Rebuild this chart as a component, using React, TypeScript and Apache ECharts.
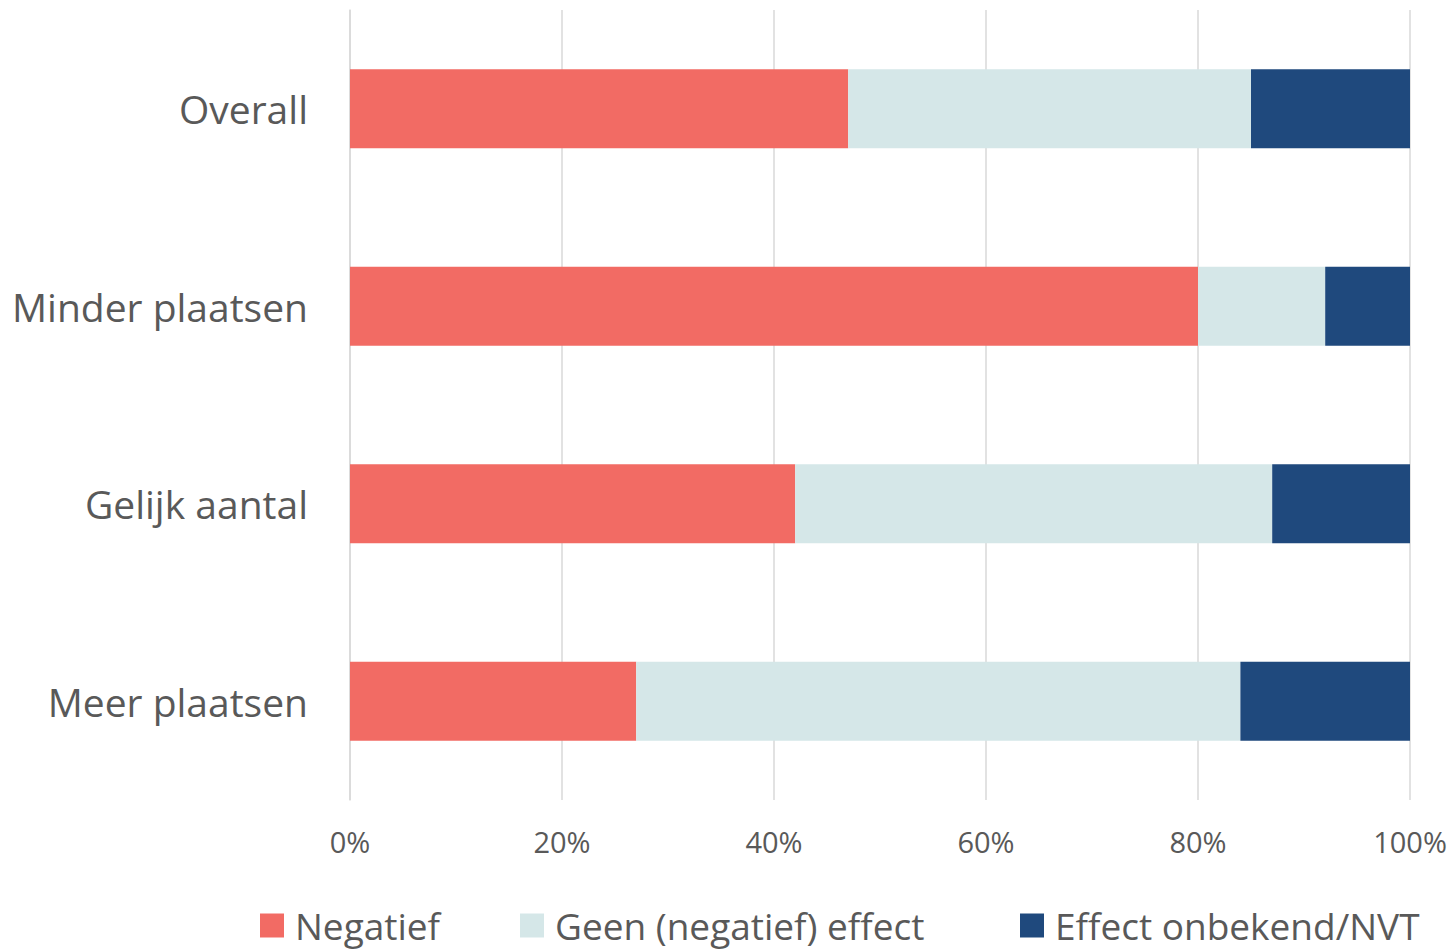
import React, { useEffect, useRef } from "react";
import * as echarts from "echarts";

const categories = ["Overall", "Minder plaatsen", "Gelijk aantal", "Meer plaatsen"];
const negatief = [47, 80, 42, 27];
const geenEffect = [38, 12, 45, 57];
const onbekend = [15, 8, 13, 16];
const seriesNames = ["Negatief", "Geen (negatief) effect", "Effect onbekend/NVT"];
const colors = ["#F26B64", "#D5E7E8", "#1F497D"];
const legendLefts = [260, 520, 1020];

export default function App() {
  const ref = useRef<HTMLDivElement>(null);
  useEffect(() => {
    document.body.style.margin = "0";
    const chart = echarts.init(ref.current!, null, { renderer: "svg" });
    const font = "'Open Sans', Lato, sans-serif";
    const datasets = [negatief, geenEffect, onbekend];
    chart.setOption({
      animation: false,
      backgroundColor: "#ffffff",
      textStyle: { fontFamily: font },
      grid: { left: 350, right: 43, top: 10, bottom: 150, containLabel: false },
      legend: seriesNames.map((name, i) => ({
        bottom: 6,
        left: legendLefts[i],
        padding: 0,
        itemWidth: 24,
        itemHeight: 24,
        icon: "rect",
        textStyle: { fontSize: 37, color: "#595959", fontFamily: font, padding: [0, 0, 0, 6] },
        data: [name],
      })),
      xAxis: {
        type: "value",
        min: 0,
        max: 100,
        interval: 20,
        axisLabel: {
          formatter: "{value}%",
          fontSize: 29,
          color: "#595959",
          margin: 27,
          fontFamily: font,
        },
        splitLine: { lineStyle: { color: "#D9D9D9", width: 1.5 } },
        axisLine: { show: false },
        axisTick: { show: false },
      },
      yAxis: {
        type: "category",
        inverse: true,
        data: categories,
        axisLabel: { fontSize: 39, color: "#595959", margin: 42, fontFamily: font },
        axisLine: { show: true, lineStyle: { color: "#D9D9D9", width: 1.5 } },
        axisTick: { show: false },
      },
      series: datasets.map((d, i) => ({
        name: seriesNames[i],
        type: "bar",
        stack: "total",
        barWidth: "40%",
        data: d,
        itemStyle: { color: colors[i] },
      })),
    });
    return () => chart.dispose();
  }, []);
  return <div ref={ref} style={{ width: 1453, height: 950 }} />;
}
